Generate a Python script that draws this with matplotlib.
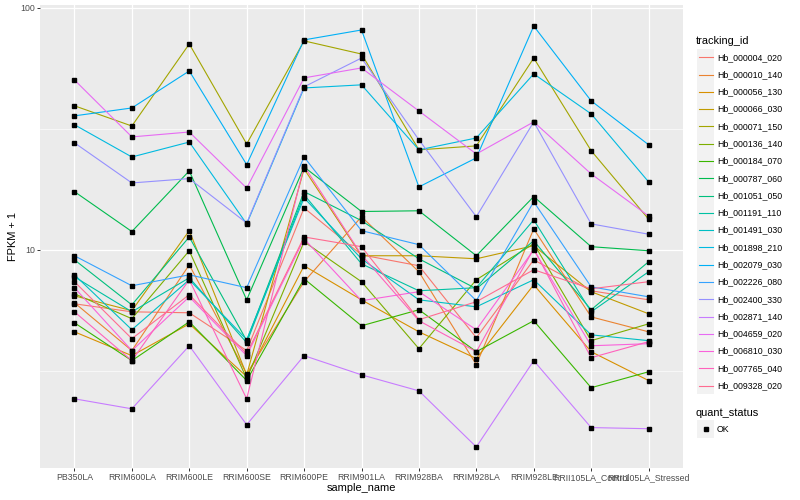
import numpy as np
import matplotlib
matplotlib.use("Agg")
import matplotlib.pyplot as plt
from matplotlib.patches import Rectangle

plt.rcParams["font.family"] = ["Liberation Sans", "DejaVu Sans"]

samples = ["PB350LA", "RRIM600LA", "RRIM600LE", "RRIM600SE", "RRIM600PE",
           "RRIM901LA", "RRIM928BA", "RRIM928LA", "RRIM928LE",
           "RRII105LA_Control", "RRII105LA_Stressed"]

tracking_ids = ["Hb_000004_020", "Hb_000010_140", "Hb_000056_130", "Hb_000066_030",
                "Hb_000071_150", "Hb_000136_140", "Hb_000184_070", "Hb_000787_060",
                "Hb_001051_050", "Hb_001191_110", "Hb_001491_030", "Hb_001898_210",
                "Hb_002079_030", "Hb_002226_080", "Hb_002400_330", "Hb_002871_140",
                "Hb_004659_020", "Hb_006810_030", "Hb_007765_040", "Hb_009328_020"]

# FPKM + 1, one list per gene, same order as samples
hb_000004_020 = [5.98, 5.54, 5.49, 3.83, 14.9, 9.53, 8.59, 4.33, 9.09, 6.77, 6.21]
hb_000010_140 = [6.04, 3.83, 8.67, 3.07, 7.38, 13.7, 8.11, 3.35, 12.2, 5.28, 4.58]
hb_000056_130 = [4.58, 3.65, 4.94, 2.99, 8.59, 6.21, 4.58, 3.55, 7.17, 3.79, 2.88]
hb_000066_030 = [6.45, 5.60, 12.0, 3.04, 21.6, 9.45, 9.45, 9.18, 10.4, 6.71, 5.44]
hb_000071_150 = [39.4, 32.5, 71.0, 27.4, 73.1, 64.5, 25.9, 26.9, 62.1, 25.7, 13.4]
hb_000136_140 = [6.58, 5.19, 9.91, 2.93, 10.8, 7.38, 3.90, 7.52, 10.6, 4.21, 4.94]
hb_000184_070 = [4.99, 3.48, 5.04, 2.88, 7.59, 4.85, 5.65, 3.79, 5.09, 2.69, 3.13]
hb_000787_060 = [17.4, 11.9, 21.2, 6.21, 22.0, 14.4, 14.5, 9.45, 16.6, 10.3, 9.91]
hb_001051_050 = [9.09, 5.92, 11.3, 4.21, 17.4, 13.2, 9.18, 6.90, 10.9, 5.65, 8.92]
hb_001191_110 = [7.73, 5.54, 7.66, 4.13, 16.9, 8.75, 6.77, 6.97, 13.3, 5.54, 8.11]
hb_001491_030 = [7.88, 4.67, 7.52, 4.25, 16.4, 9.18, 6.21, 5.81, 7.52, 4.45, 4.21]
hb_001898_210 = [32.9, 24.2, 27.9, 12.8, 46.7, 48.1, 25.9, 29.0, 53.4, 36.5, 19.1]
hb_002079_030 = [35.8, 38.6, 54.9, 22.5, 73.8, 81.1, 18.2, 24.0, 84.2, 41.3, 27.2]
hb_002226_080 = [9.45, 7.10, 7.88, 6.97, 24.2, 12.0, 10.5, 6.16, 15.8, 7.03, 6.39]
hb_002400_330 = [27.7, 18.9, 19.7, 12.9, 47.2, 62.1, 28.5, 13.7, 33.8, 12.8, 11.6]
hb_002871_140 = [2.42, 2.20, 4.01, 1.89, 3.65, 3.04, 2.61, 1.53, 3.48, 1.84, 1.82]
hb_004659_020 = [50.4, 29.3, 30.7, 18.0, 51.4, 56.5, 37.5, 24.9, 33.8, 20.6, 13.8]
hb_006810_030 = [6.97, 3.83, 6.39, 3.65, 11.1, 6.16, 6.71, 4.67, 10.0, 4.01, 4.09]
hb_007765_040 = [5.54, 3.48, 7.52, 2.42, 22.2, 9.53, 5.09, 3.79, 10.1, 3.58, 4.17]
hb_009328_020 = [7.38, 4.29, 6.52, 3.72, 11.3, 10.3, 5.14, 6.10, 8.27, 6.90, 7.38]

values = [hb_000004_020, hb_000010_140, hb_000056_130, hb_000066_030, hb_000071_150,
          hb_000136_140, hb_000184_070, hb_000787_060, hb_001051_050, hb_001191_110,
          hb_001491_030, hb_001898_210, hb_002079_030, hb_002226_080, hb_002400_330,
          hb_002871_140, hb_004659_020, hb_006810_030, hb_007765_040, hb_009328_020]

# ggplot2 default hue palette, 20 levels
colors = ["#F8766D", "#EA8331", "#D89000", "#C09B00", "#A3A500", "#7CAE00", "#39B600",
          "#00BB4E", "#00BF7D", "#00C1A3", "#00BFC4", "#00BAE0", "#00B0F6", "#35A2FF",
          "#9590FF", "#C77CFF", "#E76BF3", "#FA62DB", "#FF62BC", "#FF6C91"]

W, H = 800, 500
fig = plt.figure(figsize=(8, 5), dpi=100)
ax = fig.add_axes([40 / W, 32 / H, 643 / W, 463 / H])
ax.set_facecolor("#EBEBEB")
for s in ax.spines.values():
    s.set_visible(False)

x = np.arange(len(samples))
for vals, col in zip(values, colors):
    ax.plot(x, vals, color=col, lw=0.8, zorder=3)
for vals in values:
    ax.plot(x, vals, ls="none", marker="s", ms=2.6, color="black", zorder=4)

ax.set_yscale("log")
allv = np.log10(np.concatenate(values))
lo, hi = allv.min(), allv.max()
pad = (hi - lo) * 0.05
ax.set_ylim(10 ** (lo - pad), 10 ** (hi + pad))
ax.set_xlim(-0.6, len(samples) - 0.4)

ax.set_yticks([10, 100])
ax.set_yticklabels(["10", "100"])
ax.yaxis.set_minor_locator(matplotlib.ticker.FixedLocator([10 ** 0.5, 10 ** 1.5]))
ax.yaxis.set_minor_formatter(matplotlib.ticker.NullFormatter())
ax.set_xticks(x)
ax.set_xticklabels(samples)

ax.grid(True, which="major", color="white", lw=0.9, zorder=1)
ax.grid(True, which="minor", axis="y", color="white", lw=0.45, zorder=1)
ax.set_axisbelow(True)
ax.tick_params(which="major", colors="#333333", labelcolor="#4D4D4D",
               labelsize=6.3, length=2.0, width=0.7, pad=1.5)
ax.tick_params(which="minor", length=0)

fig.text(361.5 / W, 1 - 488 / H, "sample_name", ha="center", va="center", fontsize=7.9)
fig.text(13 / W, 1 - 236.5 / H, "FPKM + 1", ha="center", va="center",
         rotation=90, fontsize=7.9)

# legend, drawn in pixel coordinates
lax = fig.add_axes([0, 0, 1, 1], zorder=5)
lax.set_xlim(0, W)
lax.set_ylim(H, 0)
lax.axis("off")
lax.patch.set_alpha(0)

key = 17.28
lax.text(696, 40.5, "tracking_id", ha="left", va="center", fontsize=7.9)
for i, (tid, col) in enumerate(zip(tracking_ids, colors)):
    cy = 57.3 + key * i
    lax.add_patch(Rectangle((697, cy - key / 2), key, key, facecolor="#F2F2F2",
                            edgecolor="none"))
    lax.plot([698.5, 712.8], [cy, cy], color=col, lw=0.8)
    lax.text(717, cy, tid, ha="left", va="center", fontsize=6.3)

lax.text(696, 412.5, "quant_status", ha="left", va="center", fontsize=7.9)
lax.add_patch(Rectangle((697, 429 - key / 2), key, key, facecolor="#F2F2F2",
                        edgecolor="none"))
lax.plot([697 + key / 2], [429], ls="none", marker="s", ms=2.6, color="black")
lax.text(717, 429, "OK", ha="left", va="center", fontsize=6.3)

fig.savefig("out.png", dpi=100)
